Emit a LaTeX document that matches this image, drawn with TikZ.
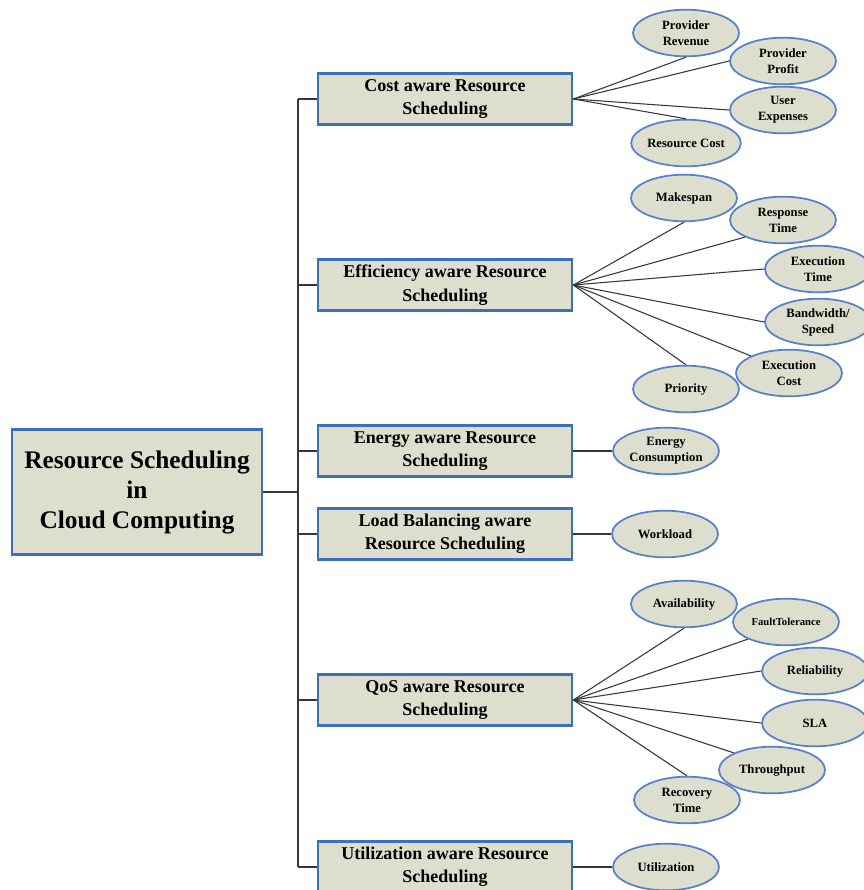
\documentclass[tikz,border=0pt]{standalone}
\usepackage{fontspec}
\setmainfont{Liberation Serif}
\usetikzlibrary{shapes.geometric}
\definecolor{boxfill}{RGB}{221,222,205}
\definecolor{boxblue}{RGB}{58,112,196}
\definecolor{ellblue}{RGB}{84,128,204}
\definecolor{linkgray}{RGB}{55,55,55}
\tikzset{every picture/.style={line width=0.75pt}}
\tikzset{
	rootbox/.style={draw=boxblue, fill=boxfill, line width=2.2pt, minimum width=187.5pt, minimum height=93.75pt, align=center, inner sep=0pt, font=\fontsize{19}{22.5}\selectfont\bfseries},
	catbox/.style={draw=boxblue, fill=boxfill, line width=2pt, minimum width=190.5pt, minimum height=38.5pt, align=center, inner sep=0pt, font=\fontsize{13.5}{17.5}\selectfont\bfseries},
	factor/.style={ellipse, draw=ellblue, fill=boxfill, line width=1.3pt, minimum width=79.5pt, minimum height=35pt, align=center, inner sep=0pt, font=\fontsize{9.5}{12}\selectfont\bfseries},
	link/.style={draw=linkgray, line width=0.8pt}
}

\begin{document}
\begin{tikzpicture}[x=0.75pt,y=0.75pt,yscale=-1,xscale=1]
		\useasboundingbox (0,0) rectangle (864,890);
		
		%Root box
		\node[rootbox] (root) at (137,492) {Resource Scheduling\\in\\Cloud Computing};
		
		%Category boxes
		\node[catbox] (cost) at (445,99) {Cost aware Resource\\Scheduling};
		\node[catbox] (eff) at (445,285) {Efficiency aware Resource\\Scheduling};
		\node[catbox] (energy) at (445,451) {Energy aware Resource\\Scheduling};
		\node[catbox] (load) at (445,534) {Load Balancing aware\\Resource Scheduling};
		\node[catbox] (qos) at (445,700) {QoS aware Resource\\Scheduling};
		\node[catbox] (util) at (445,867) {Utilization aware Resource\\Scheduling};
		
		%Trunk
		\coordinate (hub) at (298,492);
		\coordinate (trunktop) at (298,99);
		\coordinate (trunkbot) at (298,867);
		\draw[link] (root.east) -- (hub);
		\draw[link] (trunktop) -- (trunkbot);
		\foreach \b in {cost,eff,energy,load,qos,util}
			\draw[link] (\b.west -| hub) -- (\b.west);
		
		%Cost factors
		\node[factor] (prv) at (686,33) {Provider\\Revenue};
		\node[factor] (ppr) at (783,61) {Provider\\Profit};
		\node[factor] (uex) at (783,110) {User\\Expenses};
		\node[factor] (rco) at (686,143) {Resource Cost};
		\foreach \e/\a in {prv/south, ppr/west, uex/west, rco/north}
			\draw[link] (cost.east) -- (\e.\a);
		
		%Efficiency factors
		\node[factor] (msp) at (684,198) {Makespan};
		\node[factor] (rsp) at (783,220) {Response\\Time};
		\node[factor] (ext) at (818,269) {Execution\\Time};
		\node[factor] (bws) at (818,322) {Bandwidth/\\Speed};
		\node[factor] (exc) at (789,373) {Execution\\Cost};
		\node[factor] (pri) at (686,389) {Priority};
		\foreach \e/\a in {msp/south, rsp/south west, ext/west, bws/west, exc/north west, pri/north}
			\draw[link] (eff.east) -- (\e.\a);
		
		%Energy and load factors
		\node[factor] (ecn) at (666,451) {Energy\\Consumption};
		\node[factor] (wkl) at (665,534) {Workload};
		\draw[link] (energy.east) -- (ecn.west);
		\draw[link] (load.east) -- (wkl.west);
		
		%QoS factors
		\node[factor] (avl) at (684,604) {Availability};
		\node[factor] (ftl) at (786,622) {\fontsize{8}{10}\selectfont FaultTolerance};
		\node[factor] (rel) at (815,671) {Reliability};
		\node[factor] (sla) at (815,723) {SLA};
		\node[factor] (thr) at (772,770) {Throughput};
		\node[factor] (rct) at (687,800) {Recovery\\Time};
		\foreach \e/\a in {avl/south, ftl/south west, rel/west, sla/west, thr/north west, rct/north}
			\draw[link] (qos.east) -- (\e.\a);
		
		%Utilization factor
		\node[factor] (utl) at (666,867) {Utilization};
		\draw[link] (util.east) -- (utl.west);
		
\end{tikzpicture}
\end{document}
